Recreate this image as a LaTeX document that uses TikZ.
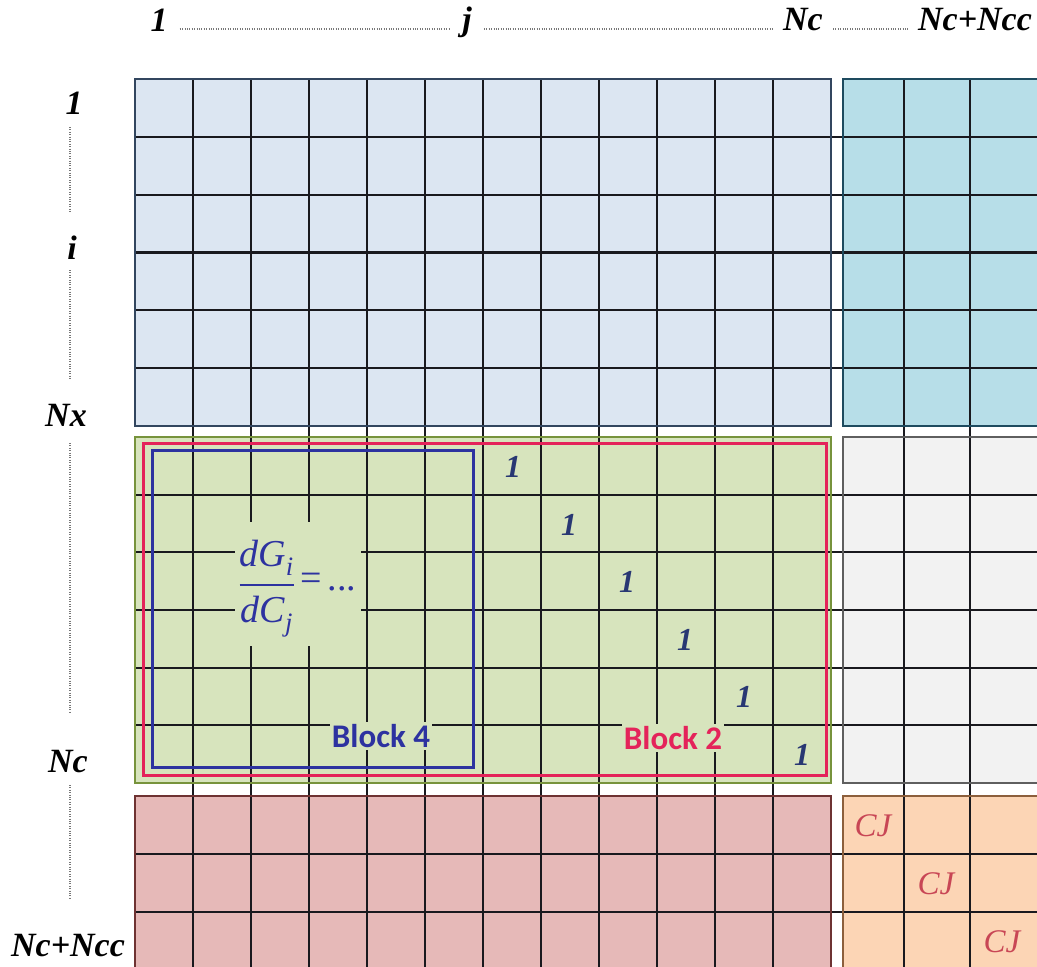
\documentclass[tikz,border=0pt]{standalone}
\usepackage{amsmath}
\usepackage{fontspec}
\setmainfont{Liberation Serif}
\newfontfamily\calib{Carlito}
\definecolor{blueFill}{RGB}{220,230,242}
\definecolor{blueBorder}{RGB}{50,70,95}
\definecolor{cyanFill}{RGB}{183,222,232}
\definecolor{cyanBorder}{RGB}{30,75,95}
\definecolor{greenFill}{RGB}{215,228,189}
\definecolor{greenBorder}{RGB}{119,147,60}
\definecolor{greyFill}{RGB}{242,242,242}
\definecolor{greyBorder}{RGB}{95,95,95}
\definecolor{redFill}{RGB}{230,185,184}
\definecolor{redBorder}{RGB}{110,50,50}
\definecolor{orangeFill}{RGB}{252,213,181}
\definecolor{orangeBorder}{RGB}{140,95,60}
\definecolor{gridCol}{RGB}{25,25,30}
\definecolor{blkFour}{RGB}{45,50,160}
\definecolor{blkTwo}{RGB}{228,35,90}
\definecolor{oneCol}{RGB}{40,55,115}
\definecolor{cjCol}{RGB}{200,70,85}
\definecolor{dotCol}{RGB}{120,120,120}
\begin{document}
\begin{tikzpicture}[x=1pt,y=-1pt,
  gridline/.style={draw=gridCol,line width=2.1pt},
  blockbox/.style={line width=2pt},
  idxlabel/.style={font=\fontsize{34}{38}\selectfont\bfseries\itshape,inner sep=0pt},
  dotline/.style={draw=dotCol,line width=1.2pt,dash pattern=on 0.8pt off 1.6pt},
  onelabel/.style={font=\fontsize{32}{36}\selectfont\bfseries\itshape,text=oneCol,inner sep=1pt},
  cjlabel/.style={font=\fontsize{33}{36}\selectfont\itshape,text=cjCol,inner sep=1pt},
  blklabel/.style={font=\fontsize{33}{38}\selectfont\calib\bfseries,fill=greenFill,inner sep=2pt}]
\useasboundingbox (0,0) rectangle (1037,967);
\clip (0,0) rectangle (1037,967);
% block fills
\fill[blueFill] (135,79) rectangle (831,426);
\fill[cyanFill] (843,79) rectangle (1045,426);
\fill[greenFill] (135,437) rectangle (831,783);
\fill[greyFill] (843,437) rectangle (1045,783);
\fill[redFill] (135,796) rectangle (831,975);
\fill[orangeFill] (843,796) rectangle (1045,975);
% grid lines
\foreach \xx in {193,251,309,367,425,483,541,599,657,715,773,904,970}
  \draw[gridline] (\xx,79) -- (\xx,975);
\foreach \yy in {136.8,194.7,252.5,310.3,368.2,494.7,552.3,610,667.7,725.3,854,912}
  \draw[gridline] (135,\yy) -- (1045,\yy);
% block borders
\draw[blockbox,draw=blueBorder] (135,79) rectangle (831,426);
\draw[blockbox,draw=cyanBorder] (843,79) rectangle (1045,426);
\draw[blockbox,draw=greenBorder] (135,437) rectangle (831,783);
\draw[blockbox,draw=greyBorder] (843,437) rectangle (1045,783);
\draw[blockbox,draw=redBorder] (135,796) rectangle (831,975);
\draw[blockbox,draw=orangeBorder] (843,796) rectangle (1045,975);
% block 2 and block 4 frames
\draw[draw=blkTwo,line width=3pt] (143,443) rectangle (826,775);
\draw[draw=blkFour,line width=3pt] (152,450) rectangle (473,767);
% formula
\node[fill=greenFill,text=blkFour,inner xsep=5pt,inner ysep=8pt,font=\fontsize{38}{42}\selectfont] (frm) at (298,584)
  {\setlength{\arrayrulewidth}{1.6pt}\renewcommand{\arraystretch}{1.25}\begin{tabular}{@{}c@{}}\textit{dG}$_{\textit{i}}$\\[2pt]\hline\textit{dC}$_{\textit{j}}$\end{tabular}\,=\,...};
% block labels
\node[blklabel,text=blkFour] (b4) at (381,736) {Block 4};
\node[blklabel,text=blkTwo] (b2) at (673,738) {Block 2};
% diagonal ones
\node[onelabel] (d1) at (513,467) {1};
\node[onelabel] (d2) at (569,525) {1};
\node[onelabel] (d3) at (627,582) {1};
\node[onelabel] (d4) at (685,640) {1};
\node[onelabel] (d5) at (744,697) {1};
\node[onelabel] (d6) at (802,755) {1};
% CJ
\node[cjlabel] (cj1) at (873,826) {CJ};
\node[cjlabel] (cj2) at (936,884) {CJ};
\node[cjlabel] (cj3) at (1002,942) {CJ};
% top labels
\node[idxlabel] (t1) at (159,20) {1};
\node[idxlabel] (tj) at (467,22) {j};
\node[idxlabel] (tnc) at (803,20) {Nc};
\node[idxlabel] (tncc) at (975,20) {Nc+Ncc};
\draw[dotline] ([xshift=12pt]t1.east |- 0,29) -- ([xshift=-12pt]tj.west |- 0,29);
\draw[dotline] ([xshift=12pt]tj.east |- 0,29) -- ([xshift=-10pt]tnc.west |- 0,29);
\draw[dotline] ([xshift=10pt]tnc.east |- 0,29) -- ([xshift=-10pt]tncc.west |- 0,29);
% left labels
\node[idxlabel] (l1) at (74,103) {1};
\node[idxlabel] (li) at (72,248) {i};
\node[idxlabel] (lnx) at (66,415) {Nx};
\node[idxlabel] (lnc) at (68,762) {Nc};
\node[idxlabel] (lncc) at (68,946) {Nc+Ncc};
\draw[dotline] (70,127) -- (70,213);
\draw[dotline] (70,270) -- (70,380);
\draw[dotline] (70,443) -- (70,712);
\draw[dotline] (70,785) -- (70,900);
\end{tikzpicture}
\end{document}
